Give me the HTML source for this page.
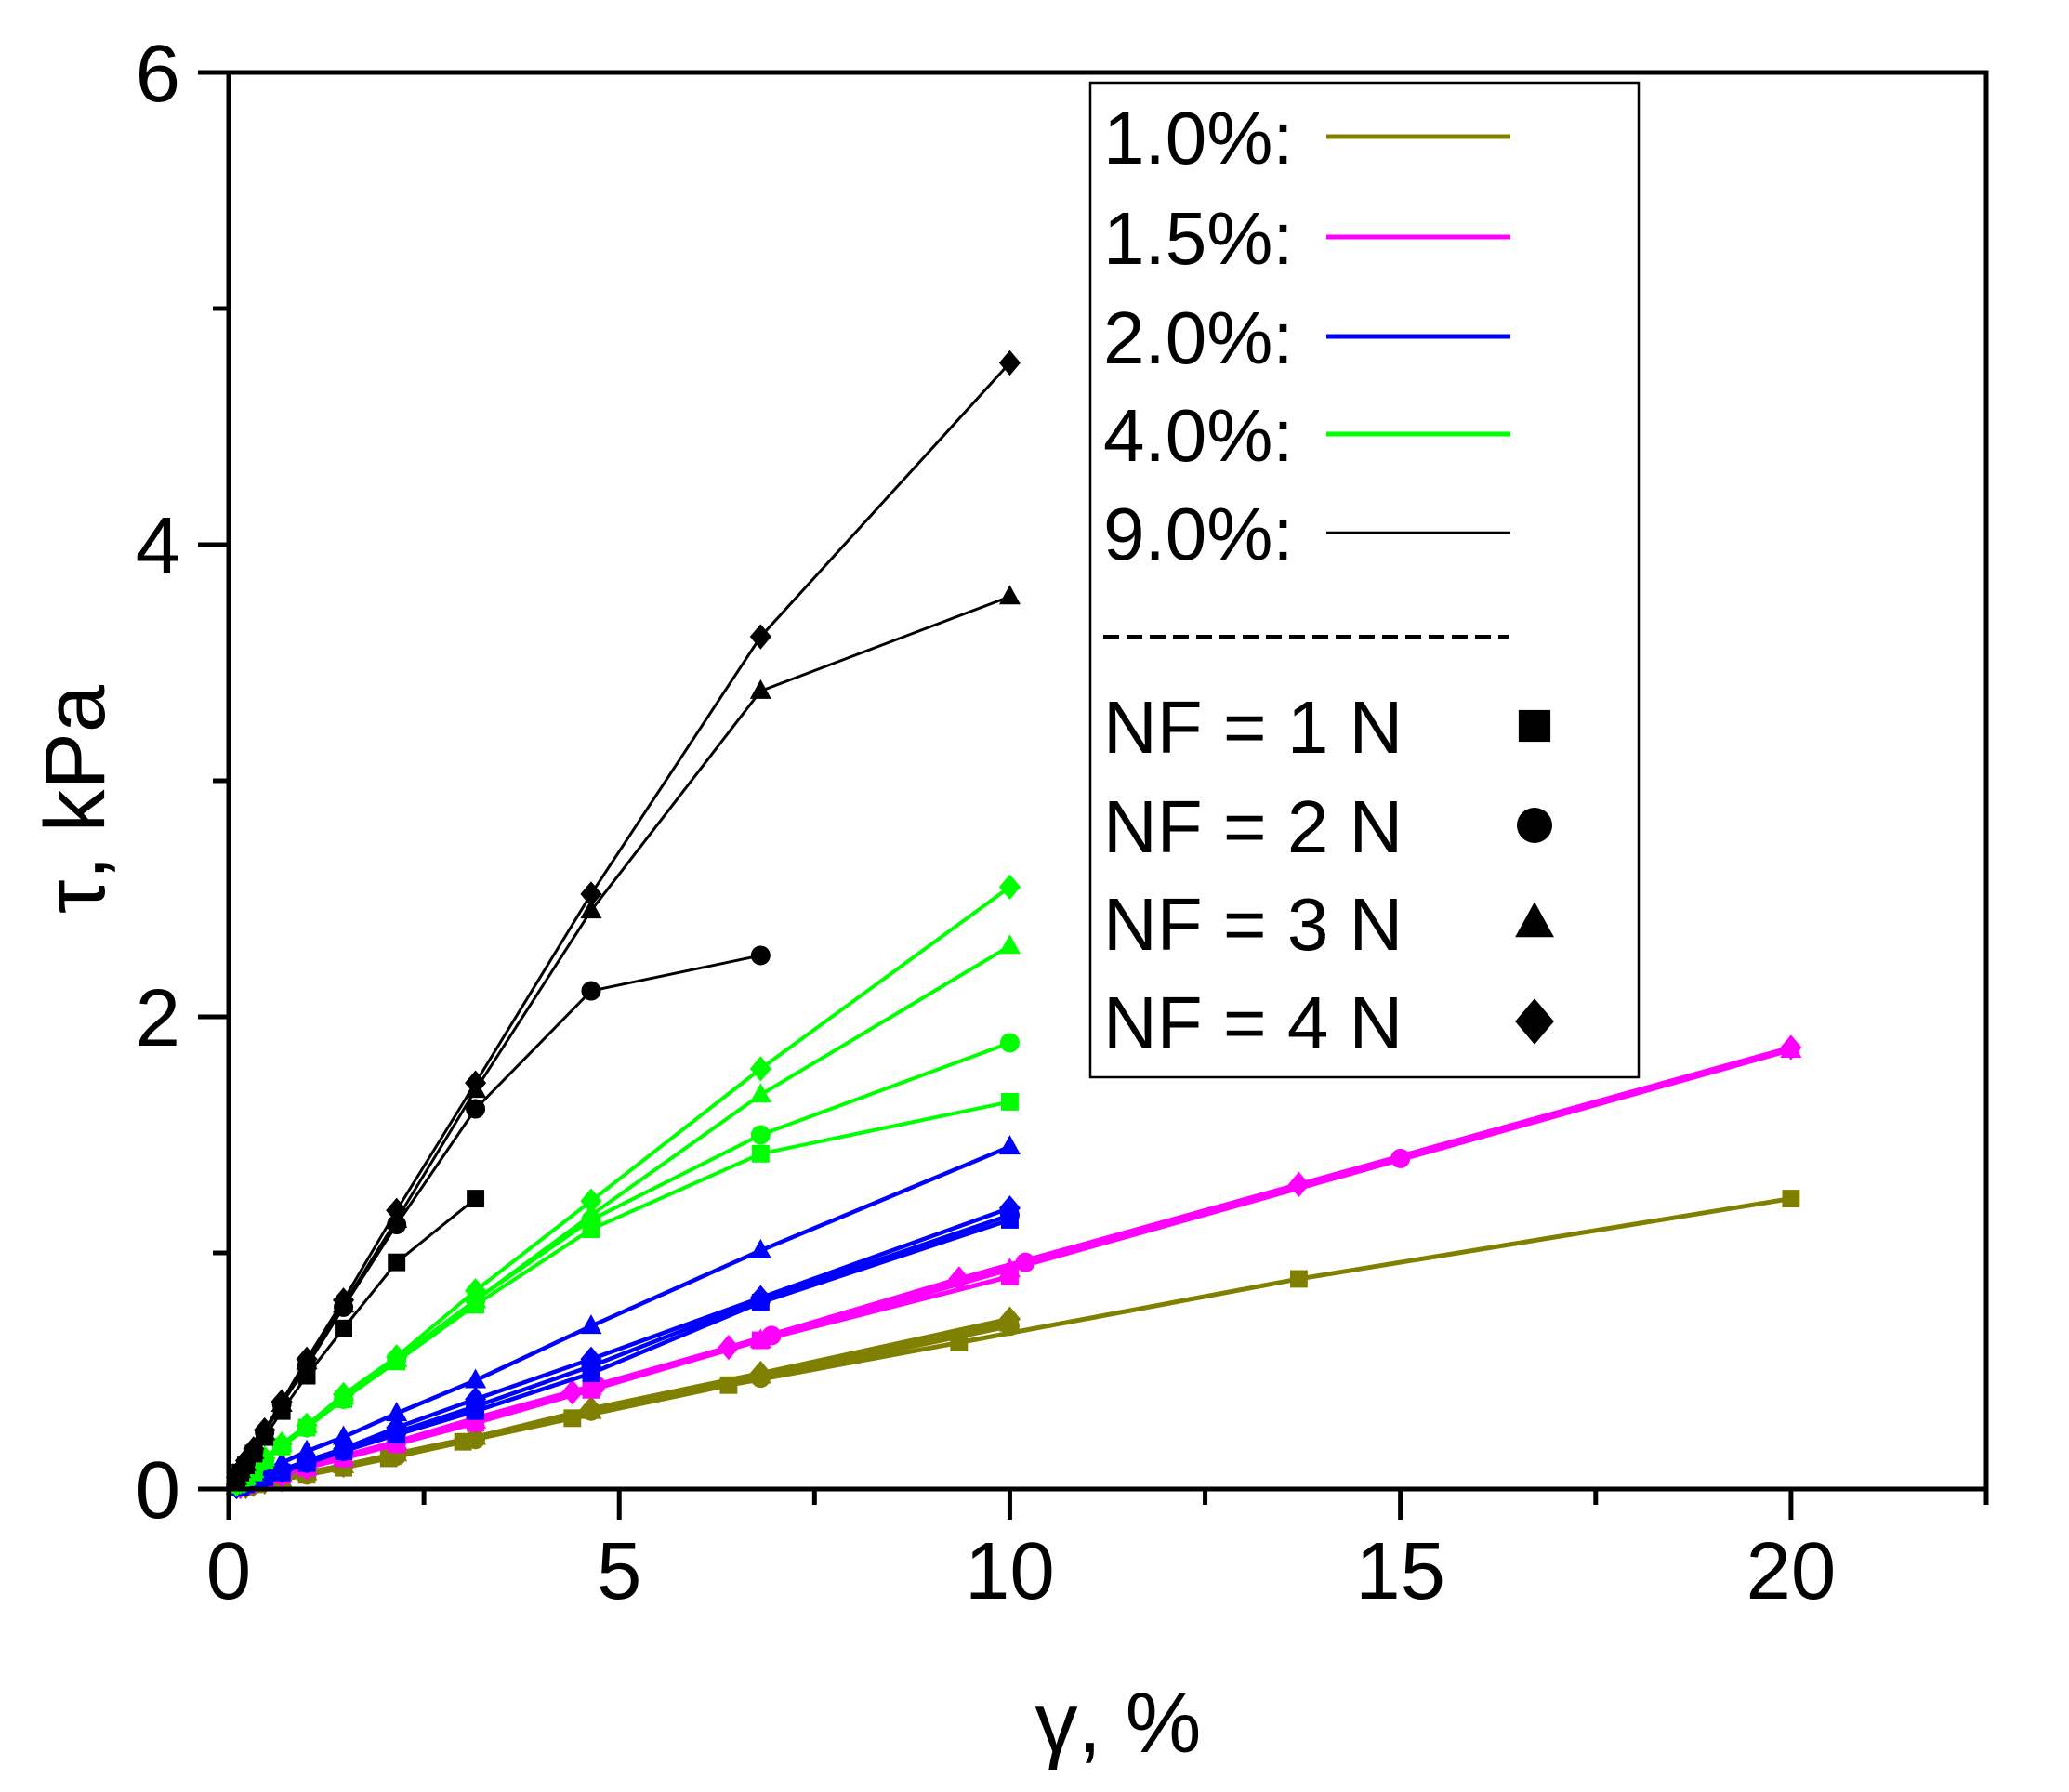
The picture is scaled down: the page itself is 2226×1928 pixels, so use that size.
<!DOCTYPE html>
<html><head><meta charset="utf-8"><style>
html,body{margin:0;padding:0;background:#fff;}
svg{display:block;font-family:"Liberation Sans",sans-serif;}
</style></head><body>
<svg id="chart" width="2226" height="1928" viewBox="0 0 2226 1928"></svg>
<script>
const gridA = [0.1,0.15,0.22,0.32,0.46,0.68,1.0,1.47,2.15,3.16,4.64,6.81,10];
const k4 = [0.05,0.08,0.12,0.17,0.25,0.37,0.55,0.80,1.18,1.72,2.52,3.61,4.77];
const k3 = [0.05,0.08,0.11,0.16,0.24,0.36,0.54,0.78,1.14,1.69,2.45,3.38,3.78];
const k2 = [0.05,0.07,0.11,0.16,0.24,0.36,0.52,0.77,1.12,1.61,2.11,2.26];
const k1 = [0.04,0.07,0.10,0.15,0.22,0.33,0.48,0.68,0.96,1.23];
const g4 = [0.02,0.03,0.05,0.08,0.13,0.19,0.27,0.40,0.56,0.84,1.22,1.78,2.55];
const g3 = [0.02,0.03,0.05,0.08,0.13,0.19,0.27,0.39,0.55,0.80,1.16,1.67,2.30];
const g2 = [0.02,0.03,0.05,0.08,0.12,0.18,0.26,0.38,0.55,0.80,1.14,1.50,1.89];
const g1 = [0.02,0.03,0.05,0.07,0.12,0.18,0.26,0.38,0.54,0.78,1.10,1.42,1.64];
const b3 = [0.01,0.02,0.03,0.05,0.08,0.11,0.16,0.22,0.32,0.46,0.69,1.01,1.45];
const b4 = [0.01,0.02,0.02,0.04,0.06,0.08,0.12,0.17,0.26,0.38,0.55,0.81,1.19];
const b2 = [0.01,0.01,0.02,0.04,0.05,0.08,0.11,0.16,0.24,0.35,0.52,0.80,1.16];
const b1 = [0.01,0.01,0.02,0.03,0.05,0.07,0.11,0.16,0.23,0.33,0.49,0.79,1.14];
const m4x = [0.1,0.15,0.22,0.32,0.46,0.68,1.0,1.47,2.15,3.16,4.4,6.4,9.35,13.7,20];
const m4 = [0.01,0.01,0.02,0.03,0.04,0.06,0.09,0.14,0.20,0.29,0.41,0.60,0.89,1.29,1.87];
const m2x = [0.1,0.15,0.22,0.32,0.46,0.68,1.0,1.47,2.15,3.16,4.7,6.95,10.2,15.0];
const m2 = [0.01,0.01,0.02,0.03,0.04,0.06,0.09,0.14,0.20,0.30,0.44,0.65,0.96,1.40];
const m3x = [0.1,0.15,0.22,0.32,0.46,0.68,1.0,1.47,2.15,3.16,4.64,6.81,10,20];
const m3 = [0.01,0.01,0.02,0.03,0.04,0.06,0.09,0.13,0.20,0.29,0.43,0.63,0.93,1.86];
const m1 = [0.01,0.01,0.02,0.03,0.04,0.06,0.09,0.13,0.19,0.28,0.42,0.63,0.90];
const o1x = [0.1,0.15,0.22,0.32,0.46,0.68,1.0,1.47,2.05,3.0,4.4,6.4,9.35,13.7,20];
const o1 = [0.01,0.01,0.01,0.02,0.03,0.04,0.06,0.09,0.13,0.20,0.30,0.44,0.62,0.89,1.23];
const o4 = [0.01,0.01,0.01,0.02,0.03,0.04,0.07,0.10,0.15,0.22,0.34,0.49,0.72];
const o3 = [0.01,0.01,0.01,0.02,0.03,0.04,0.07,0.10,0.15,0.22,0.33,0.48,0.70];
const o2 = [0.01,0.01,0.01,0.02,0.03,0.04,0.06,0.10,0.14,0.21,0.33,0.47,0.69];
const xTicks = [0,5,10,15,20];
const yTicks = [0,2,4,6];
const legendConc = ["1.0%:","1.5%:","2.0%:","4.0%:","9.0%:"];
const legendNF = ["NF = 1 N","NF = 2 N","NF = 3 N","NF = 4 N"];

const svg = document.getElementById('chart');
const NS = 'http://www.w3.org/2000/svg';
const X0=246, X1=2137, Y0=1602, Y1=78;
const sx = v => X0 + v*(X1-X0)/22.5;
const sy = v => Y0 - v*(Y0-Y1)/6;
function el(tag, attrs, parent){const e=document.createElementNS(NS,tag);for(const k in attrs)e.setAttribute(k,attrs[k]);(parent||svg).appendChild(e);return e;}

function marker(g,shape,cx,cy,col,s){
  let m;
  if(shape==='sq') m=el('rect',{x:cx-s*0.45,y:cy-s*0.45,width:s*0.9,height:s*0.9,fill:col},g);
  else if(shape==='ci') m=el('circle',{cx:cx,cy:cy,r:s*0.5,fill:col},g);
  else if(shape==='tr') m=el('polygon',{points:`${cx},${cy-s*0.6} ${cx+s*0.55},${cy+s*0.4} ${cx-s*0.55},${cy+s*0.4}`,fill:col},g);
  else m=el('polygon',{points:`${cx},${cy-s*0.65} ${cx+s*0.55},${cy} ${cx},${cy+s*0.65} ${cx-s*0.55},${cy}`,fill:col},g);
  return m;
}

const series = [
  ['olive-nf1',o1x,o1,'#808000','sq',5],['olive-nf2',gridA,o2,'#808000','ci',5],['olive-nf3',gridA,o3,'#808000','tr',5],['olive-nf4',gridA,o4,'#808000','di',5],
  ['magenta-nf1',gridA,m1,'#ff00ff','sq',5],['magenta-nf2',m2x,m2,'#ff00ff','ci',5],['magenta-nf3',m3x,m3,'#ff00ff','tr',5],['magenta-nf4',m4x,m4,'#ff00ff','di',5],
  ['blue-nf1',gridA,b1,'#0000ff','sq',4.5],['blue-nf2',gridA,b2,'#0000ff','ci',4.5],['blue-nf3',gridA,b3,'#0000ff','tr',4.5],['blue-nf4',gridA,b4,'#0000ff','di',4.5],
  ['green-nf1',gridA,g1,'#00ff00','sq',4],['green-nf2',gridA,g2,'#00ff00','ci',4],['green-nf3',gridA,g3,'#00ff00','tr',4],['green-nf4',gridA,g4,'#00ff00','di',4],
  ['black-nf1',gridA,k1,'#000000','sq',3],['black-nf2',gridA,k2,'#000000','ci',3],['black-nf3',gridA,k3,'#000000','tr',3],['black-nf4',gridA,k4,'#000000','di',3]
];
series.forEach(s=>{
  const g=el('g',{});
  
  
  const xs=s[1], ys=s[2];
  const pts=ys.map((y,i)=>sx(xs[i])+','+sy(y)).join(' ');
  const pl=el('polyline',{points:pts,fill:'none',stroke:s[3],'stroke-width':s[5],'stroke-linejoin':'round'},g);
  
  
  ys.forEach((y,i)=>{
    const m=marker(g,s[4],sx(xs[i]),sy(y),s[3],21);
    
    
  });
});

const ax=el('g',{});


el('rect',{x:X0,y:Y1,width:X1-X0,height:Y0-Y1,fill:'none',stroke:'#000','stroke-width':5},ax);
for(let v=0; v<=22.5; v+=2.5){
  const major = v%5===0;
  el('line',{x1:sx(v),x2:sx(v),y1:Y0,y2:Y0+(major?33:17),stroke:'#000','stroke-width':5},ax);
}
for(let v=0; v<=6; v+=1){
  const major = v%2===0;
  el('line',{x1:X0,x2:X0-(major?33:17),y1:sy(v),y2:sy(v),stroke:'#000','stroke-width':5},ax);
}
xTicks.forEach(v=>{
  const t=el('text',{x:sx(v),y:1720,'font-size':87,'text-anchor':'middle'},ax);
  t.textContent=v;
  
  
});
yTicks.forEach(v=>{
  const t=el('text',{x:194,y:sy(v)+31,'font-size':87,'text-anchor':'end'},ax);
  t.textContent=v;
  
  
});
const xt=el('text',{x:1203,y:1885,'font-size':92,'text-anchor':'middle'});
xt.textContent='γ, %';


const yt=el('text',{x:0,y:0,'font-size':92,'text-anchor':'middle',transform:'translate(112,860) rotate(-90)'});
yt.textContent='τ, kPa';



const lg=el('g',{transform:'translate(-17,0)'});


el('rect',{x:1190,y:89,width:590,height:1070,fill:'#fff',stroke:'#000','stroke-width':2.5},lg);
const concCols=['#808000','#ff00ff','#0000ff','#00ff00','#000000'];
const concW=[5,5,5,5,2.5];
const concY=[147,255,362,467,573];
legendConc.forEach((t,i)=>{
  const tx=el('text',{x:1204,y:concY[i]+29,'font-size':80},lg);
  tx.textContent=t;
  
  
  el('line',{x1:1444,x2:1642,y1:concY[i],y2:concY[i],stroke:concCols[i],'stroke-width':concW[i]},lg);
});
el('line',{x1:1204,x2:1640,y1:685,y2:685,stroke:'#000','stroke-width':4,'stroke-dasharray':'17 8'},lg);
const nfY=[781,888,993,1099];
const nfShapes=['sq','ci','tr','di'];
legendNF.forEach((t,i)=>{
  const tx=el('text',{x:1204,y:nfY[i]+29,'font-size':80},lg);
  tx.textContent=t;
  
  
  marker(lg,nfShapes[i],1668,nfY[i],'#000',38);
});
</script>
</body></html>
